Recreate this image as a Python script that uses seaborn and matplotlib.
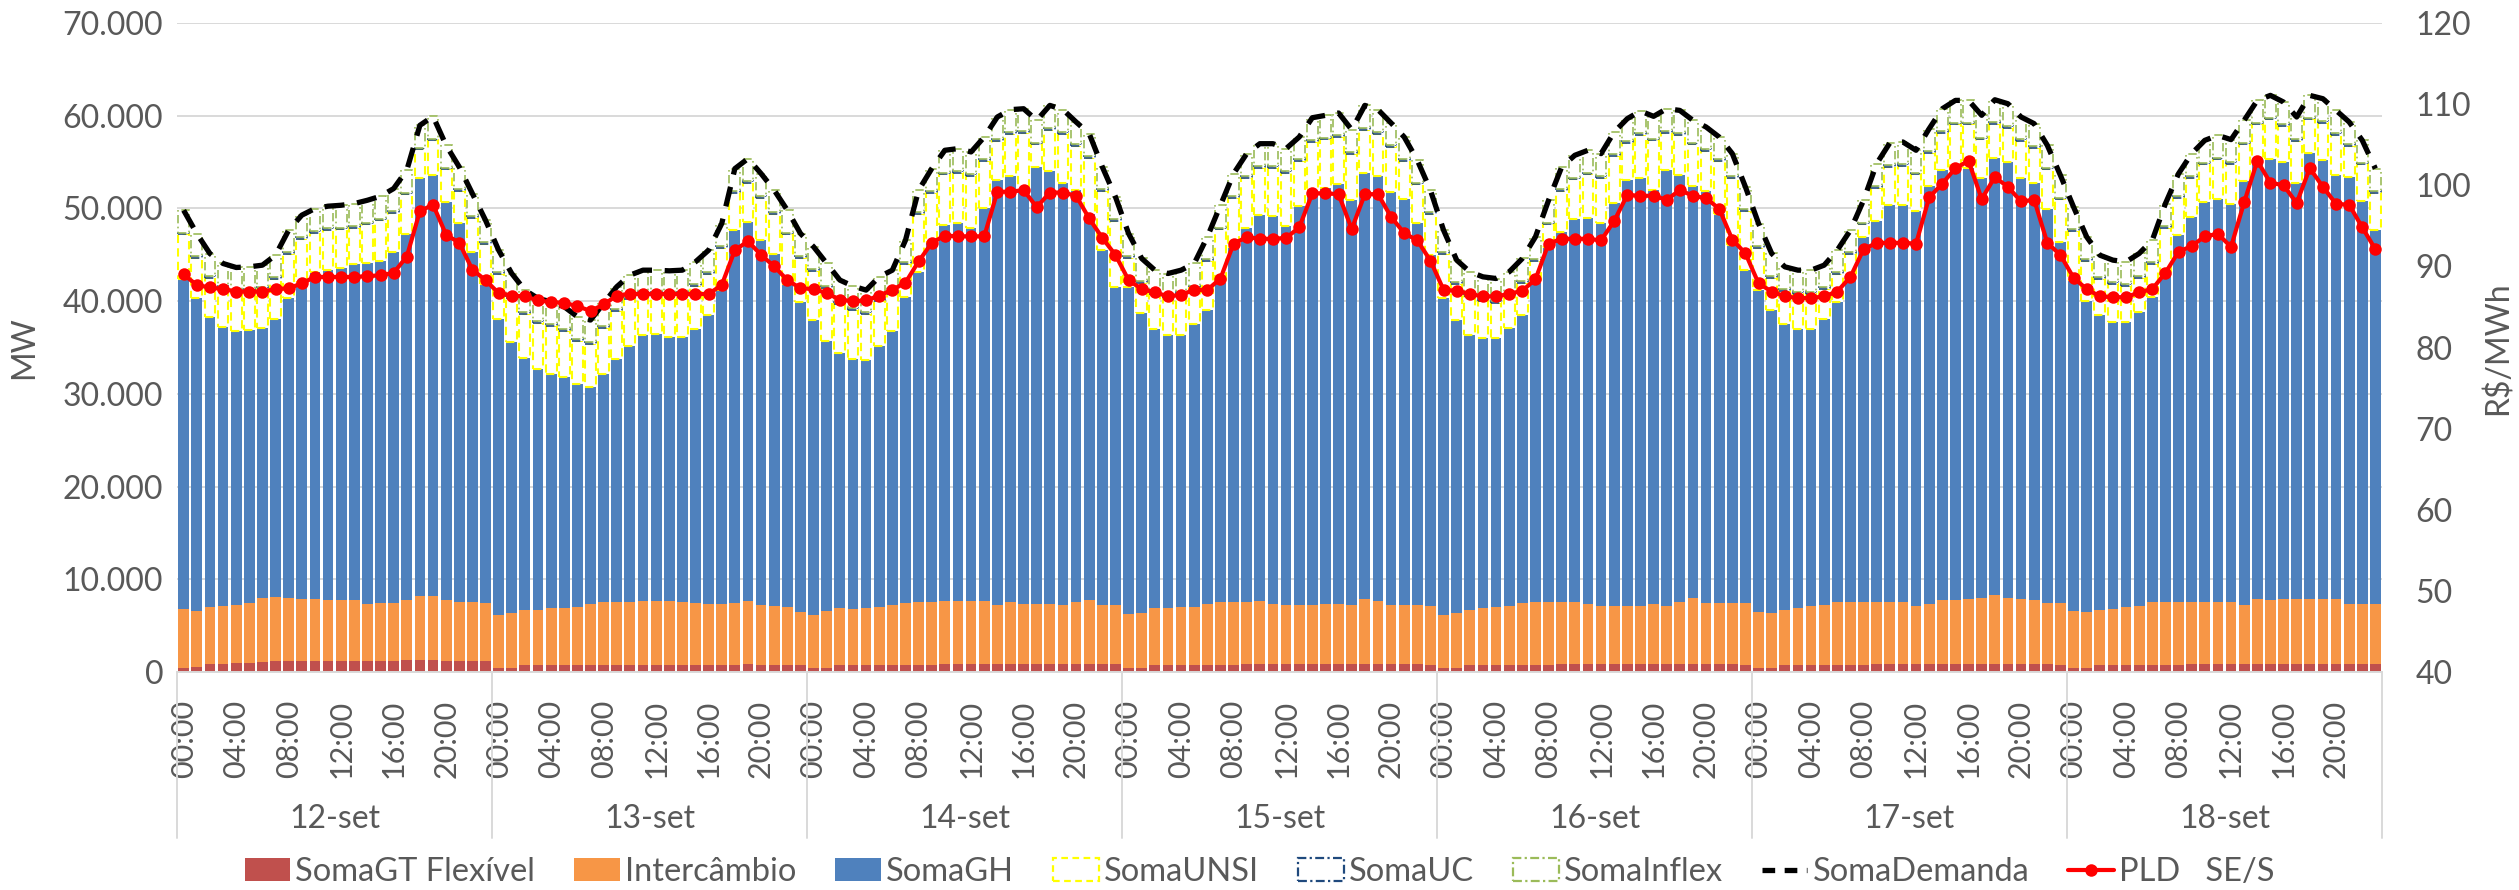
import numpy as np
import pandas as pd
import matplotlib
matplotlib.use("Agg")
import matplotlib.pyplot as plt
import matplotlib.transforms as mtransforms
from matplotlib.patches import Patch
from matplotlib.lines import Line2D
from matplotlib.ticker import FuncFormatter, MultipleLocator
import seaborn as sns

# ---------------------------------------------------------------- data
days = ["12-set", "13-set", "14-set", "15-set", "16-set", "17-set", "18-set"]
hour_labels = ["00:00", "04:00", "08:00", "12:00", "16:00", "20:00"]

gt_flex = [
    470, 540, 830, 830, 940, 1010, 1120, 1150, 1150, 1150, 1150, 1150, 1150, 1150, 1150, 1150, 1150, 1260, 1260, 1260, 1220, 1220, 1150, 1150,
    450, 470, 760, 760, 760, 760, 760, 760, 760, 760, 760, 760, 760, 760, 760, 760, 760, 760, 760, 860, 760, 760, 760, 760,
    450, 470, 760, 760, 760, 760, 760, 760, 760, 760, 860, 860, 860, 860, 860, 860, 860, 860, 860, 860, 860, 860, 860, 860,
    450, 470, 760, 760, 760, 760, 760, 760, 760, 860, 860, 860, 860, 860, 860, 860, 860, 860, 860, 860, 860, 860, 860, 760,
    450, 470, 760, 760, 760, 760, 760, 760, 760, 860, 860, 860, 860, 860, 860, 860, 860, 860, 860, 860, 860, 860, 860, 760,
    450, 470, 760, 760, 760, 760, 760, 760, 760, 860, 860, 860, 860, 860, 860, 860, 860, 860, 860, 860, 860, 860, 860, 760,
    450, 470, 760, 760, 760, 760, 760, 760, 760, 860, 860, 860, 860, 860, 860, 860, 860, 860, 860, 860, 860, 860, 860, 860,
]

intercambio = [
    6290, 6080, 6220, 6330, 6290, 6400, 6900, 6940, 6870, 6760, 6760, 6660, 6660, 6660, 6190, 6260, 6260, 6550, 6940, 6940, 6590, 6370, 6370, 6260,
    5740, 5930, 5930, 5930, 6150, 6180, 6250, 6540, 6830, 6830, 6830, 6940, 6940, 6870, 6790, 6650, 6540, 6540, 6650, 6840, 6430, 6360, 6250, 5750,
    5740, 6150, 6180, 6070, 6180, 6250, 6430, 6650, 6760, 6760, 6840, 6840, 6840, 6840, 6330, 6660, 6440, 6510, 6510, 6330, 6730, 6950, 6330, 6330,
    5810, 5930, 6150, 6110, 6220, 6290, 6580, 6760, 6760, 6660, 6770, 6480, 6330, 6330, 6330, 6440, 6440, 6330, 7050, 6770, 6330, 6330, 6330, 6360,
    5660, 5930, 5930, 6110, 6220, 6360, 6650, 6830, 6830, 6730, 6730, 6480, 6260, 6260, 6260, 6260, 6440, 6260, 6660, 7160, 6550, 6550, 6550, 6650,
    6060, 5930, 5930, 6150, 6360, 6430, 6830, 6830, 6830, 6730, 6730, 6730, 6260, 6440, 6910, 6910, 6980, 7130, 7410, 7160, 7020, 6870, 6550, 6650,
    6130, 6040, 5970, 6070, 6220, 6360, 6760, 6760, 6830, 6730, 6730, 6660, 6660, 6330, 7050, 6950, 6980, 7050, 7050, 6980, 6980, 6440, 6440, 6440,
]

soma_gh = [
    35680, 33670, 31190, 30000, 29570, 29460, 29030, 29930, 32270, 34170, 35250, 35530, 35710, 36180, 36790, 36940, 37870, 39410, 45120, 45370, 42850, 40850, 37790, 34490,
    31830, 29150, 27130, 25950, 25230, 24910, 24050, 23470, 24550, 26130, 27560, 28640, 28750, 28530, 28540, 29610, 31160, 33880, 40310, 40840, 39450, 38010, 34790, 33420,
    31770, 29110, 27430, 26960, 26710, 28150, 29620, 33060, 35640, 38870, 40490, 40780, 40240, 42390, 45920, 45950, 44660, 47100, 46630, 45590, 44440, 41560, 38310, 34360,
    35290, 32350, 30080, 29470, 29360, 30480, 31690, 34390, 38340, 40420, 41640, 41820, 40960, 43050, 44770, 44910, 45300, 43760, 45950, 45840, 44550, 43870, 41250, 37840,
    34180, 31560, 29650, 29110, 29000, 29940, 31090, 34320, 38270, 39880, 41320, 41670, 41360, 43480, 45990, 46200, 44660, 47060, 46050, 44370, 44440, 42040, 38630, 35930,
    34680, 32630, 30840, 30040, 29900, 30910, 32310, 35030, 39340, 41070, 42750, 42750, 42610, 45090, 46340, 46410, 46560, 45330, 47210, 46990, 45440, 45020, 42570, 38980,
    35690, 33530, 31730, 30950, 30800, 31660, 32880, 35280, 39520, 41500, 43110, 43540, 42930, 45770, 47280, 47560, 47170, 44870, 48070, 47420, 45730, 46090, 43470, 40420,
]

soma_unsi = [
    4760, 4400, 4290, 4300, 4230, 4230, 4230, 4340, 4760, 4590, 4220, 4300, 4220, 3930, 4150, 4360, 4260, 4290, 3040, 3760, 3540, 3430, 3690, 4230,
    4880, 4830, 4770, 5050, 5190, 4940, 4660, 4590, 5010, 5230, 5050, 4400, 4290, 4510, 4650, 4620, 4440, 4590, 3970, 4230, 4510, 4230, 5400, 4760,
    5300, 5730, 5300, 5230, 4940, 4860, 3930, 3500, 6200, 5300, 5480, 5370, 5550, 5010, 4150, 4580, 6190, 2430, 4510, 5270, 4690, 6090, 6370, 7090,
    3140, 3250, 3750, 4040, 4400, 3930, 5300, 5830, 5290, 5370, 5110, 5220, 5700, 4860, 5220, 5230, 5090, 4940, 4650, 4580, 4870, 4040, 4150, 4400,
    4760, 3860, 4220, 4040, 3860, 3500, 3500, 2420, 2420, 4400, 4220, 4660, 4830, 5040, 3970, 4580, 5370, 3970, 4400, 4510, 4330, 5650, 7270, 6380,
    4580, 3510, 3570, 3790, 3720, 3180, 3000, 2430, 1350, 3570, 4120, 4220, 3940, 3610, 4040, 4870, 4650, 4120, 3640, 3680, 3940, 3790, 4230, 4580,
    5290, 4290, 3900, 4040, 3860, 3760, 3570, 5120, 4040, 4220, 4040, 4220, 4370, 3940, 3860, 4220, 3860, 4480, 3610, 3970, 4400, 3330, 3970, 3970,
]

soma_uc = [
    200, 200, 200, 200, 200, 200, 200, 200, 200, 200, 200, 200, 200, 200, 200, 200, 200, 200, 200, 200, 200, 200, 200, 200,
    200, 200, 200, 200, 200, 200, 200, 200, 200, 200, 200, 200, 200, 200, 200, 200, 200, 200, 200, 200, 200, 200, 200, 200,
    200, 200, 200, 200, 200, 200, 200, 200, 200, 200, 200, 200, 200, 200, 200, 200, 200, 200, 200, 200, 200, 200, 200, 200,
    200, 200, 200, 200, 200, 200, 200, 200, 200, 200, 200, 200, 200, 200, 200, 200, 200, 200, 200, 200, 200, 200, 200, 200,
    200, 200, 200, 200, 200, 200, 200, 200, 200, 200, 200, 200, 200, 200, 200, 200, 200, 200, 200, 200, 200, 200, 200, 200,
    200, 200, 200, 200, 200, 200, 200, 200, 200, 200, 200, 200, 200, 200, 200, 200, 200, 200, 200, 200, 200, 200, 200, 200,
    200, 200, 200, 200, 200, 200, 200, 200, 200, 200, 200, 200, 200, 200, 200, 200, 200, 200, 200, 200, 200, 200, 200, 200,
]

soma_inflex = [
    2400, 2400, 2400, 2400, 2400, 2400, 2400, 2400, 2400, 2400, 2400, 2400, 2400, 2400, 2400, 2400, 2400, 2400, 2400, 2400, 2400, 2400, 2400, 2400,
    2400, 2400, 2400, 2400, 2400, 2400, 2400, 2400, 2400, 2400, 2400, 2400, 2400, 2400, 2400, 2400, 2400, 2400, 2400, 2400, 2400, 2400, 2400, 2400,
    2400, 2400, 2400, 2400, 2400, 2400, 2400, 2400, 2400, 2400, 2400, 2400, 2400, 2400, 2400, 2400, 2400, 2400, 2400, 2400, 2400, 2400, 2400, 2400,
    2400, 2400, 2400, 2400, 2400, 2400, 2400, 2400, 2400, 2400, 2400, 2400, 2400, 2400, 2400, 2400, 2400, 2400, 2400, 2400, 2400, 2400, 2400, 2400,
    2400, 2400, 2400, 2400, 2400, 2400, 2400, 2400, 2400, 2400, 2400, 2400, 2400, 2400, 2400, 2400, 2400, 2400, 2400, 2400, 2400, 2400, 2400, 2400,
    2400, 2400, 2400, 2400, 2400, 2400, 2400, 2400, 2400, 2400, 2400, 2400, 2400, 2400, 2400, 2400, 2400, 2400, 2400, 2400, 2400, 2400, 2400, 2400,
    2400, 2400, 2400, 2400, 2400, 2400, 2400, 2400, 2400, 2400, 2400, 2400, 2400, 2400, 2400, 2400, 2400, 2400, 2400, 2400, 2400, 2400, 2400, 2400,
]

soma_demanda = [
    49800, 47290, 45130, 44060, 43630, 43700, 43880, 44960, 47650, 49270, 49980, 50240, 50340, 50520, 50880, 51310, 52140, 54110, 58960, 59930, 56800, 54470, 51600, 48730,
    45500, 42980, 41190, 40290, 39930, 39390, 38320, 37960, 39750, 41550, 42800, 43340, 43340, 43270, 43340, 44240, 45500, 48370, 54290, 55370, 53750, 51960, 49800, 47290,
    45860, 44060, 42270, 41620, 41190, 42620, 43340, 46570, 51960, 54290, 56270, 56450, 56090, 57700, 59860, 60650, 60750, 59500, 61110, 60650, 59320, 58060, 54470, 51240,
    47290, 44600, 43340, 42980, 43340, 44060, 46930, 50340, 53750, 55910, 56980, 56980, 56450, 57700, 59780, 60040, 60290, 58490, 61110, 60650, 59210, 57700, 55190, 51960,
    47650, 44420, 43160, 42620, 42440, 43160, 44600, 46930, 50880, 54470, 55730, 56270, 55910, 58240, 59680, 60500, 59930, 60750, 60570, 59500, 58780, 57700, 55910, 52320,
    48370, 45140, 43700, 43340, 43340, 43880, 45500, 47650, 50880, 54830, 57060, 57160, 56270, 58600, 60750, 61650, 61650, 60040, 61720, 61290, 59860, 59140, 56810, 53570,
    50160, 46930, 44960, 44420, 44240, 45140, 46570, 50520, 53750, 55910, 57340, 57880, 57420, 59500, 61650, 62190, 61470, 59860, 62190, 61830, 60570, 59320, 57340, 54290,
]

pld = [
    89.0, 87.7, 87.4, 87.2, 86.9, 86.9, 86.9, 87.2, 87.3, 87.9, 88.7, 88.7, 88.7, 88.7, 88.8, 88.9, 89.2, 91.2, 96.8, 97.6, 93.9, 92.9, 89.6, 88.3,
    86.7, 86.4, 86.3, 85.8, 85.6, 85.5, 85.1, 84.5, 85.3, 86.4, 86.6, 86.6, 86.6, 86.6, 86.6, 86.6, 86.6, 87.7, 92.0, 93.1, 91.4, 90.0, 88.3, 87.3,
    87.2, 86.7, 85.9, 85.7, 85.8, 86.4, 87.1, 88.0, 90.6, 92.9, 93.8, 93.7, 93.7, 93.7, 99.2, 99.2, 99.4, 97.3, 99.1, 99.1, 98.7, 95.9, 93.5, 91.4,
    88.3, 87.2, 86.8, 86.3, 86.5, 87.1, 87.1, 88.5, 92.8, 93.6, 93.4, 93.4, 93.5, 94.8, 99.0, 99.0, 98.9, 94.6, 98.9, 98.9, 96.1, 94.1, 93.2, 90.7,
    87.1, 87.0, 86.6, 86.3, 86.3, 86.6, 87.0, 88.4, 92.8, 93.4, 93.4, 93.4, 93.2, 95.6, 98.8, 98.7, 98.7, 98.2, 99.4, 98.7, 98.4, 97.1, 93.3, 91.6,
    87.9, 86.9, 86.3, 86.1, 86.1, 86.3, 86.9, 88.7, 92.1, 92.9, 92.9, 92.9, 92.8, 98.5, 100.2, 102.1, 103.0, 98.3, 101.0, 99.8, 98.0, 98.2, 92.9, 91.4,
    88.6, 87.2, 86.3, 86.2, 86.2, 86.8, 87.2, 89.2, 91.8, 92.5, 93.7, 94.0, 92.4, 97.9, 103.0, 100.3, 100.0, 97.8, 102.1, 99.8, 97.7, 97.6, 94.8, 92.1,
]

# ---------------------------------------------------------------- style
sns.set_theme(style="white")
plt.rcParams["font.family"] = ["Lato", "DejaVu Sans"]

TXT = "#595959"
GRID = "#D9D9D9"
C_GT = "#C0504D"
C_INT = "#F79646"
C_GH = "#4F81BD"
C_UNSI = "#FFFF00"
C_UC = "#1F497D"
C_INFLEX = "#9BBB59"

fig, ax = plt.subplots(figsize=(25.19, 8.90), dpi=100)
fig.subplots_adjust(left=0.0703, right=0.9456, top=0.9742, bottom=0.2449)

n = len(soma_demanda)
x = np.arange(n)
width = 0.82

layers = [
    (gt_flex, dict(color=C_GT, linewidth=0)),
    (intercambio, dict(color=C_INT, linewidth=0)),
    (soma_gh, dict(color=C_GH, linewidth=0)),
    (soma_unsi, dict(facecolor="white", edgecolor=C_UNSI, linewidth=1.5, linestyle=(0, (4, 2.5)))),
    (soma_uc, dict(facecolor="white", edgecolor=C_UC, linewidth=1.2, linestyle=(0, (5, 2, 1, 2)))),
    (soma_inflex, dict(facecolor="white", edgecolor=C_INFLEX, linewidth=1.2, linestyle=(0, (5, 2, 1, 2)))),
]
bottom = np.zeros(n)
for values, kw in layers:
    vals = np.asarray(values, dtype=float)
    ax.bar(x, vals, width, bottom=bottom, zorder=2, **kw)
    bottom += vals

df = pd.DataFrame({"x": x, "demanda": soma_demanda, "pld": pld})

sns.lineplot(data=df, x="x", y="demanda", ax=ax, color="black", linewidth=3.8, zorder=5)
ax.lines[-1].set_dashes([3.8, 2.4])

ax.set_xlim(-0.5, n - 0.5)
ax.set_ylim(0, 70000)
ax.yaxis.set_major_locator(MultipleLocator(10000))
ax.yaxis.set_major_formatter(FuncFormatter(lambda v, _: f"{int(v):,}".replace(",", ".")))
ax.yaxis.grid(True, color=GRID, linewidth=1.4)
ax.set_axisbelow(True)

tick_pos = [d * 24 + h for d in range(len(days)) for h in range(0, 24, 4)]
ax.set_xticks(tick_pos)
ax.set_xticklabels(hour_labels * len(days), rotation=90, fontsize=22, color=TXT)
ax.tick_params(axis="x", length=0, pad=20)
ax.tick_params(axis="y", length=0, labelsize=23, labelcolor=TXT, pad=10)
ax.set_xlabel("")
ax.set_ylabel("")

for side in ("left", "right", "top"):
    ax.spines[side].set_visible(False)
ax.spines["bottom"].set_color(GRID)
ax.spines["bottom"].set_linewidth(1.4)

# day groups under the hour labels
trans = mtransforms.blended_transform_factory(ax.transData, ax.transAxes)
for i, d in enumerate(days):
    ax.text(i * 24 + 11.5, -0.226, d, transform=trans, ha="center", va="center",
            fontsize=23, color=TXT)
for i in range(len(days) + 1):
    ax.plot([i * 24 - 0.5, i * 24 - 0.5], [0, -0.255], transform=trans,
            clip_on=False, color=GRID, linewidth=1.4)

# price on the secondary axis
ax2 = ax.twinx()
sns.lineplot(data=df, x="x", y="pld", ax=ax2, color="#FF0000", linewidth=3.0,
             marker="o", markersize=9, markeredgewidth=0, zorder=6)
ax2.set_ylim(40, 120)
ax2.yaxis.set_major_locator(MultipleLocator(10))
ax2.tick_params(axis="y", length=0, labelsize=23, labelcolor=TXT, pad=24)
ax2.set_ylabel("")
for side in ("left", "right", "top", "bottom"):
    ax2.spines[side].set_visible(False)
ax2.grid(False)

fig.text(24 / 2519, 1 - 348 / 890, "MW", rotation=90, ha="center", va="center",
         fontsize=23, color=TXT)
fig.text(2498 / 2519, 1 - 348 / 890, r"R\$/MWh", rotation=90, ha="center", va="center",
         fontsize=23, color=TXT)

handles = [
    Patch(facecolor=C_GT, edgecolor="none"),
    Patch(facecolor=C_INT, edgecolor="none"),
    Patch(facecolor=C_GH, edgecolor="none"),
    Patch(facecolor="white", edgecolor=C_UNSI, linewidth=1.6, linestyle=(0, (3, 2))),
    Patch(facecolor="white", edgecolor=C_UC, linewidth=1.6, linestyle=(0, (4, 1.5, 1, 1.5))),
    Patch(facecolor="white", edgecolor=C_INFLEX, linewidth=1.6, linestyle=(0, (4, 1.5, 1, 1.5))),
    Line2D([0], [0], color="black", linewidth=3.8, dashes=[2.4, 1.8]),
    Line2D([0], [0], color="#FF0000", linewidth=3.0, marker="o", markersize=9, markeredgewidth=0),
]
labels = ["SomaGT Flexível", "Intercâmbio", "SomaGH", "SomaUNSI", "SomaUC",
          "SomaInflex", "SomaDemanda", "PLD   SE/S"]
fig.legend(handles, labels, loc="lower center", bbox_to_anchor=(0.5, -0.03), ncol=8,
           frameon=False, fontsize=23.5, labelcolor=TXT, handlelength=1.4,
           handleheight=0.7, handletextpad=0.15, columnspacing=1.2)

fig.savefig("out.png", dpi=100)
